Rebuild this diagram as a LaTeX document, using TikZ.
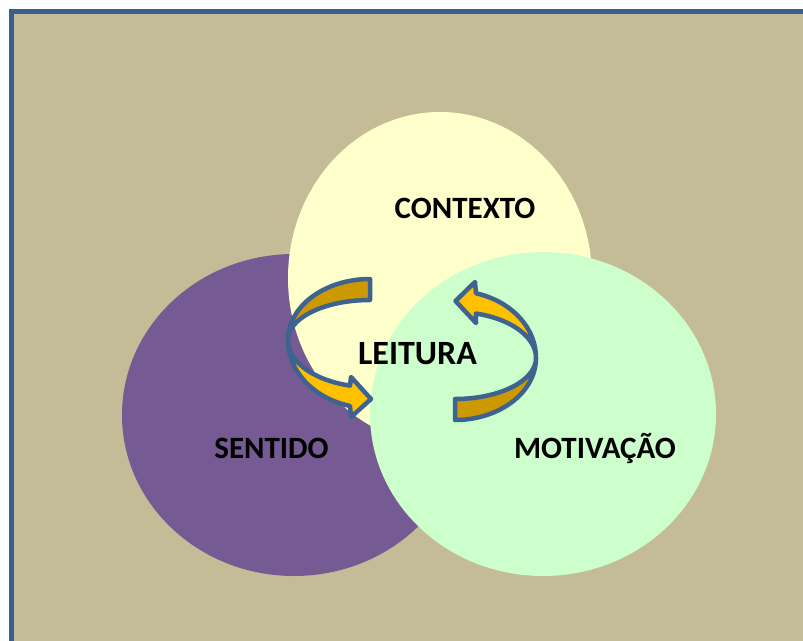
\documentclass[tikz,border=0pt]{standalone}
\usepackage{fontspec}
\setmainfont{Carlito}
\usetikzlibrary{shapes.geometric}
\definecolor{bgtan}{HTML}{C4BC96}
\definecolor{framblue}{HTML}{3A5F8D}
\definecolor{arrblue}{HTML}{3E6391}
\definecolor{sentpurple}{HTML}{755A93}
\definecolor{ctxyellow}{HTML}{FFFFCC}
\definecolor{motgreen}{HTML}{CCFFCC}
\definecolor{arrlight}{HTML}{FFC000}
\definecolor{arrdark}{HTML}{CC9900}
\tikzset{
  blob/.style={ellipse, inner sep=0pt, draw=none},
  lbl/.style={anchor=base, font=\fontsize{31}{37}\selectfont\bfseries, text=black, inner sep=0pt},
  biglbl/.style={lbl, font=\fontsize{34}{40}\selectfont\bfseries},
  band/.style={draw=arrblue, line width=4.5pt, line join=round},
}
\begin{document}
\begin{tikzpicture}[x=1pt,y=-1pt]
\useasboundingbox (0,0) rectangle (803,640);
\clip (0,0) rectangle (803,640);
\fill[white] (0,0) rectangle (803,640);
\draw[fill=bgtan, draw=framblue, line width=5pt] (11.5,11.5) rectangle (840,680);

% circles
\node[blob, fill=sentpurple, minimum width=344pt, minimum height=322pt] (sentido) at (294,415) {};
\node[blob, fill=ctxyellow, minimum width=304pt, minimum height=332pt] (contexto) at (440,278) {};
\node[blob, fill=motgreen, minimum width=346pt, minimum height=324pt] (motivacao) at (543,414) {};

% left arrow (center 370,340; rx 82)
\filldraw[band, fill=arrdark]
  plot[domain=270:180, samples=40, variable=\t] ({370+82*cos(\t)}, {340+61*sin(\t)})
  -- plot[domain=180:270, samples=40, variable=\t] ({370+82*cos(\t)}, {340+40*sin(\t)})
  -- cycle;
\filldraw[band, fill=arrlight]
  plot[domain=180:104.1, samples=40, variable=\t] ({370+82*cos(\t)}, {340+68*sin(\t)})
  -- (351,417) -- (371,399) -- (351,377)
  -- plot[domain=104.1:180, samples=40, variable=\t] ({370+82*cos(\t)}, {340+47*sin(\t)})
  -- cycle;

% right arrow (center 455,358; rx 81)
\filldraw[band, fill=arrdark]
  plot[domain=0:90, samples=40, variable=\t] ({455+81*cos(\t)}, {358+62*sin(\t)})
  -- plot[domain=90:0, samples=40, variable=\t] ({455+81*cos(\t)}, {358+41*sin(\t)})
  -- cycle;
\filldraw[band, fill=arrlight]
  plot[domain=0:-75, samples=40, variable=\t] ({455+81*cos(\t)}, {358+67*sin(\t)})
  -- (475,282) -- (455.5,301) -- (476,323)
  -- plot[domain=-75:0, samples=40, variable=\t] ({455+81*cos(\t)}, {358+46*sin(\t)})
  -- cycle;

% labels
\node[lbl] (tctx) at (465,218) {CONTEXTO};
\node[biglbl] (tlei) at (417.5,364) {LEITURA};
\node[lbl] (tsen) at (271.5,458) {SENTIDO};
\node[lbl] (tmot) at (595,458) {MOTIVAÇÃO};
\end{tikzpicture}
\end{document}
